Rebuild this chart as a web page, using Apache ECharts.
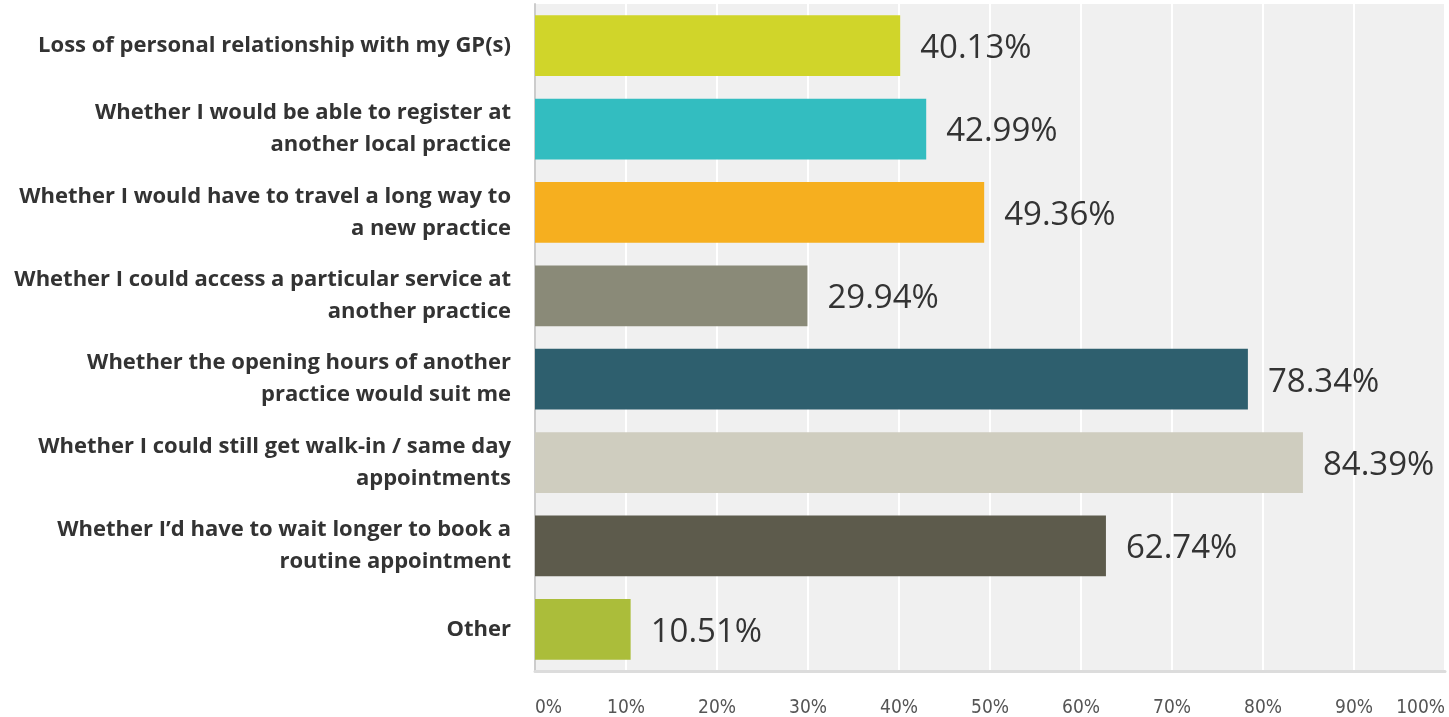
<!DOCTYPE html>
<html>
<head>
<meta charset="UTF-8">
<title>GP practice concerns</title>
<script src="https://cdn.jsdelivr.net/npm/echarts@6/dist/echarts.min.js"></script>
<style>
  html, body { margin: 0; padding: 0; background: #fff; }
  #chart { width: 1449px; height: 717px; }
</style>
</head>
<body>
<div id="chart"></div>
<script>
// answer choices, top to bottom
var categories = [
    'Loss of personal relationship with my GP(s)',
    'Whether I would be able to register at\nanother local practice',
    'Whether I would have to travel a long way to\na new practice',
    'Whether I could access a particular service at\nanother practice',
    'Whether the opening hours of another\npractice would suit me',
    'Whether I could still get walk-in / same day\nappointments',
    'Whether I\u2019d have to wait longer to book a\nroutine appointment',
    'Other'
];
var values = [40.13, 42.99, 49.36, 29.94, 78.34, 84.39, 62.74, 10.51];
var barColors = ['#d0d52a', '#33bdc0', '#f6af1f', '#8a8a78', '#2e5f6e', '#cfcdbf', '#5d5b4c', '#abbd3a'];
var tickLabels = ['0%', '10%', '20%', '30%', '40%', '50%', '60%', '70%', '80%', '90%', '100%'];

var chart = echarts.init(document.getElementById('chart'), null, {renderer: 'canvas'});

var seriesData = [];
for (var i = 0; i < values.length; i++) {
    seriesData.push({value: values[i], itemStyle: {color: barColors[i]}});
}

var option = {
    animation: false,
    grid: {
        left: 535,
        right: 4,
        top: 4,
        bottom: 46,
        outerBoundsMode: 'none',
        containLabel: false,
        show: true,
        backgroundColor: '#f0f0f0',
        borderWidth: 0
    },
    xAxis: {
        type: 'value',
        min: 0,
        max: 100,
        interval: 10,
        axisLine: {show: true, lineStyle: {color: '#dcdcdc', width: 3}},
        axisTick: {show: false},
        splitLine: {show: true, lineStyle: {color: '#ffffff', width: 2}},
        axisLabel: {
            margin: 28,
            color: '#555',
            fontSize: 19,
            fontFamily: '"Liberation Sans Narrow", "DejaVu Sans Condensed", sans-serif',
            alignMinLabel: 'left',
            alignMaxLabel: 'right',
            formatter: function (v) { return tickLabels[Math.round(v / 10)]; }
        }
    },
    yAxis: {
        type: 'category',
        inverse: true,
        data: categories,
        axisLine: {show: true, lineStyle: {color: '#cccccc', width: 2}},
        axisTick: {show: false},
        axisLabel: {
            margin: 24,
            color: '#333',
            fontSize: 22,
            fontWeight: 'bold',
            lineHeight: 32,
            align: 'right',
            fontFamily: '"Open Sans", "Noto Sans", sans-serif'
        }
    },
    series: [{
        type: 'bar',
        data: seriesData,
        barCategoryGap: '27%',
        label: {
            show: true,
            position: 'right',
            distance: 20,
            offset: [0, 3],
            color: '#333',
            fontSize: 33,
            fontFamily: '"Open Sans", "Noto Sans", sans-serif',
            formatter: function (p) { return p.value.toFixed(2) + '%'; }
        }
    }]
};

chart.setOption(option);
</script>
</body>
</html>
